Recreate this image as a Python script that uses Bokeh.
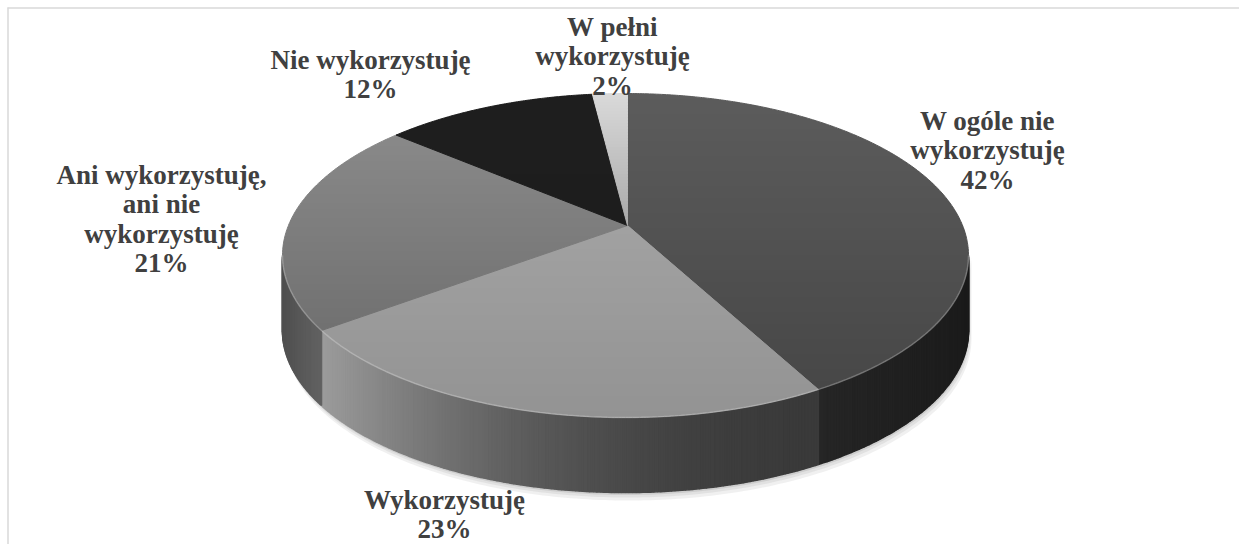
import numpy as np
from bokeh.plotting import figure
from bokeh.models import Range1d, ColumnDataSource
from bokeh.embed import file_html
from bokeh.resources import INLINE
from bokeh.core.properties import value

# ---------------- data ----------------
categories = ["W ogóle nie wykorzystuję", "Wykorzystuję",
              "Ani wykorzystuję, ani nie wykorzystuję", "Nie wykorzystuję",
              "W pełni wykorzystuję"]
shares = [42, 23, 21, 12, 2]
label_lines = [["W ogóle nie", "wykorzystuję"],
               ["Wykorzystuję"],
               ["Ani wykorzystuję,", "ani nie", "wykorzystuję"],
               ["Nie wykorzystuję"],
               ["W pełni", "wykorzystuję"]]

# ---------------- style / layout ----------------
top_colors = [("#5c5c5c", "#454545"), ("#ababab", "#939393"),
              ("#8e8e8e", "#666666"), ("#1e1e1e", "#1c1c1c"),
              ("#dadada", "#626262")]
wall_colors = [("#262626", "#1b1b1b", 1.0), ("#9c9c9c", "#3a3a3a", 2.0),
               ("#505050", "#626262", 1.0), ("#1e1e1e", "#1e1e1e", 1.0),
               ("#bbbbbb", "#bbbbbb", 1.0)]
label_anchor = [(987, 120), (444, 499), (161, 174), (370, 59), (612, 26)]
LINE_H = 29.5

W, H = 1239, 544
AX, AY = 627.0, 225.0      # projected centre of the pie
EX, EY = 625.0, 255.0      # centre of the rim ellipse
RX, RY = 343.0, 162.0
DEPTH = 75.0
Y_TOP, Y_BOT = EY - RY, EY + RY


def hex2rgb(h):
    h = h.lstrip("#")
    return np.array([int(h[i:i + 2], 16) for i in (0, 2, 4)], dtype=float)


def lerp_col(c0, c1, f):
    f = min(max(f, 0.0), 1.0)
    c = hex2rgb(c0) * (1 - f) + hex2rgb(c1) * f
    return "#%02x%02x%02x" % tuple(int(round(v)) for v in c)


def rim(theta_deg):
    th = np.radians(theta_deg)
    ux, uy = np.sin(th), -np.cos(th)
    ox, oy = (AX - EX) / RX, (AY - EY) / RY
    b = ox * ux + oy * uy
    c = ox * ox + oy * oy - 1
    t = -b + np.sqrt(b * b - c)
    return AX + t * ux * RX, AY + t * uy * RY


def clip_band(pts, y0, y1):
    def clip(poly, keep, yc):
        out = []
        n = len(poly)
        for i in range(n):
            cur, prev = poly[i], poly[i - 1]
            kc, kp = keep(cur), keep(prev)
            if kc:
                if not kp:
                    out.append((prev[0] + (cur[0] - prev[0]) * (yc - prev[1]) / (cur[1] - prev[1]), yc))
                out.append(cur)
            elif kp:
                out.append((prev[0] + (cur[0] - prev[0]) * (yc - prev[1]) / (cur[1] - prev[1]), yc))
        return out
    poly = clip(pts, lambda p: p[1] >= y0, y0)
    if len(poly) >= 3:
        poly = clip(poly, lambda p: p[1] <= y1, y1)
    return poly


total = float(sum(shares))
bounds = np.concatenate([[0.0], np.cumsum(shares) / total * 360.0])

theta_R = np.degrees(np.arctan2((EX + RX - AX) / RX, -(EY - AY) / RY)) % 360
theta_L = np.degrees(np.arctan2((EX - RX - AX) / RX, -(EY - AY) / RY)) % 360

p = figure(width=W, height=H, output_backend="svg", toolbar_location=None,
           x_range=Range1d(0, W), y_range=Range1d(H, 0),
           min_border=0, outline_line_color=None)
p.min_border_left = p.min_border_right = p.min_border_top = p.min_border_bottom = 0
p.axis.visible = False
p.xgrid.visible = False
p.ygrid.visible = False
p.background_fill_color = "white"
p.border_fill_color = "white"

# chart border (top and left visible)
p.line(x=[7, W], y=[7.5, 7.5], line_color="#d9d9d9", line_width=1.5)
p.line(x=[7.5, 7.5], y=[7, H], line_color="#d9d9d9", line_width=1.5)

# shadow under the front wall
front = np.linspace(theta_R, theta_L, 200)
fx, fy = zip(*[rim(t) for t in front])
fx, fy = np.array(fx), np.array(fy)
for (dx, dy, col, a) in [(3, 8, "#eeeeee", 0.9), (2, 5, "#dddddd", 0.8), (1, 2.5, "#c8c8c8", 0.8)]:
    sx = list(fx + dx) + list((fx + dx)[::-1])
    sy = list(fy) + list((fy + DEPTH + dy)[::-1])
    p.patch(sx, sy, fill_color=col, fill_alpha=a, line_color=None)

# walls
wx, wy, wc = [], [], []
for i in range(len(shares)):
    a0, a1 = max(bounds[i], theta_R), min(bounds[i + 1], theta_L)
    if a1 <= a0:
        continue
    n = max(int((a1 - a0) / 0.5), 2)
    th = np.linspace(a0, a1, n + 1)
    pts = [rim(t) for t in th]
    xs_all = [q[0] for q in pts]
    xl, xr = min(xs_all), max(xs_all)
    cl, cr, g = wall_colors[i]
    for k in range(n):
        (x0, y0), (x1, y1) = pts[k], pts[k + 1]
        xm = 0.5 * (x0 + x1)
        f = ((xr - xm) / (xr - xl)) ** g if xr > xl else 0
        col = lerp_col(cr, cl, f)
        wx.append([x0, x1, x1, x0])
        wy.append([y0, y1, y1 + DEPTH, y0 + DEPTH])
        wc.append(col)
p.patches(xs="xs", ys="ys", fill_color="c", line_color="c", line_width=1.6,
          source=ColumnDataSource(dict(xs=wx, ys=wy, c=wc)))

# top faces with vertical gradient
tx, ty, tc = [], [], []
band = 3.0
for i in range(len(shares)):
    a0, a1 = bounds[i], bounds[i + 1]
    n = max(int((a1 - a0) / 0.5), 2)
    poly = [(AX, AY)] + [rim(t) for t in np.linspace(a0, a1, n + 1)]
    ymin = min(q[1] for q in poly)
    ymax = max(q[1] for q in poly)
    y = np.floor(ymin)
    c0, c1 = top_colors[i]
    while y < ymax:
        seg = clip_band(poly, y, y + band)
        if len(seg) >= 3:
            f = (y + band / 2 - Y_TOP) / (Y_BOT - Y_TOP)
            col = lerp_col(c0, c1, f)
            tx.append([q[0] for q in seg])
            ty.append([q[1] for q in seg])
            tc.append(col)
        y += band
p.patches(xs="xs", ys="ys", fill_color="c", line_color="c", line_width=1.0,
          source=ColumnDataSource(dict(xs=tx, ys=ty, c=tc)))

# light bevel along the front rim
p.line(x=fx, y=fy, line_color="#ffffff", line_alpha=0.25, line_width=1.5)

# labels
lx, ly, lt = [], [], []
for i, lines in enumerate(label_lines):
    cx, by = label_anchor[i]
    for j, s in enumerate(lines + ["%d%%" % shares[i]]):
        lx.append(cx)
        ly.append(by + j * LINE_H)
        lt.append(s)
p.text(x=lx, y=ly, text=lt, text_font=value("Liberation Serif"),
       text_font_style="bold", text_font_size="27px", text_color="#404040",
       text_align="center", text_baseline="alphabetic")

open("out.html", "w").write(file_html(p, INLINE))
